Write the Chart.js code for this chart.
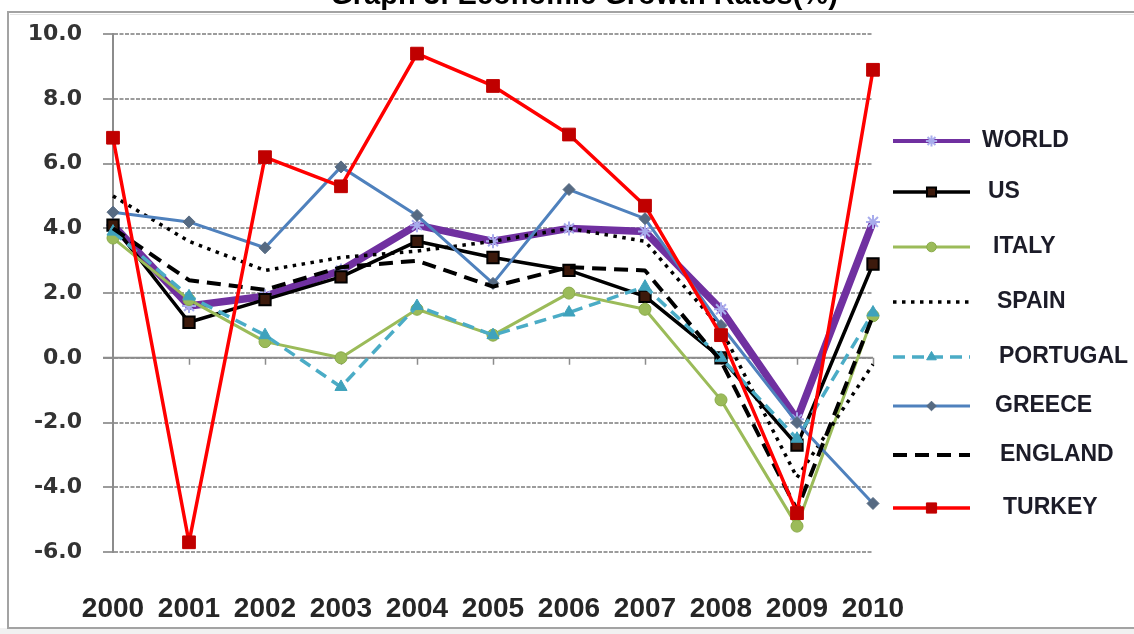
<!DOCTYPE html>
<html>
<head>
<meta charset="utf-8">
<script src="https://cdn.jsdelivr.net/npm/chart.js@4.4.1/dist/chart.umd.min.js"></script>
<style>
  html, body { margin: 0; padding: 0; background: #ffffff; }
  #wrap { position: relative; width: 1134px; height: 634px; }
</style>
</head>
<body>
<div id="wrap"><canvas id="growth" width="1134" height="634"></canvas></div>
<script>
// Annual GDP growth, percent
const years = ['2000', '2001', '2002', '2003', '2004', '2005', '2006', '2007', '2008', '2009', '2010'];
const yTickValues = [-6, -4, -2, 0, 2, 4, 6, 8, 10];
const seriesNames = ['WORLD', 'US', 'ITALY', 'SPAIN', 'PORTUGAL', 'GREECE', 'ENGLAND', 'TURKEY'];

const world    = [4.1, 1.6, 1.9, 2.7, 4.1, 3.6, 4.0, 3.9, 1.5, -1.9, 4.2];
const us       = [4.1, 1.1, 1.8, 2.5, 3.6, 3.1, 2.7, 1.9, 0.0, -2.7, 2.9];
const italy    = [3.7, 1.8, 0.5, 0.0, 1.5, 0.7, 2.0, 1.5, -1.3, -5.2, 1.3];
const spain    = [5.0, 3.6, 2.7, 3.1, 3.3, 3.6, 4.0, 3.6, 0.9, -3.7, -0.2];
const portugal = [3.9, 1.9, 0.7, -0.9, 1.6, 0.7, 1.4, 2.2, 0.0, -2.5, 1.4];
const greece   = [4.5, 4.2, 3.4, 5.9, 4.4, 2.3, 5.2, 4.3, 1.0, -2.0, -4.5];
const england  = [4.0, 2.4, 2.1, 2.8, 3.0, 2.2, 2.8, 2.7, -0.1, -4.7, 1.3];
const turkey   = [6.8, -5.7, 6.2, 5.3, 9.4, 8.4, 6.9, 4.7, 0.7, -4.8, 8.9];

const seriesValues = [world, us, italy, spain, portugal, greece, england, turkey];

// Line and marker styling for each country, in legend order
const seriesStyles = [
  { borderColor: '#7030a0', borderWidth: 7.5, pointStyle: 'star', pointRadius: 7,
    pointBackgroundColor: '#a8acec', pointBorderColor: '#a8acec', pointBorderWidth: 2 },
  { borderColor: '#000000', borderWidth: 3.5, pointStyle: 'rect', pointRadius: 8,
    pointBackgroundColor: '#3d1a0c', pointBorderColor: '#000000', pointBorderWidth: 2 },
  { borderColor: '#9bbb59', borderWidth: 3, pointStyle: 'circle', pointRadius: 6,
    pointBackgroundColor: '#9bbb59', pointBorderColor: '#8aab4a', pointBorderWidth: 1 },
  { borderColor: '#000000', borderWidth: 3.5, borderDash: [3.5, 5.5], pointRadius: 0 },
  { borderColor: '#4bacc6', borderWidth: 3.5, borderDash: [12, 7], pointStyle: 'triangle', pointRadius: 7,
    pointBackgroundColor: '#3fa2bc', pointBorderColor: '#3fa2bc', pointBorderWidth: 1 },
  { borderColor: '#4f81bd', borderWidth: 3, pointStyle: 'rectRot', pointRadius: 6,
    pointBackgroundColor: '#566a82', pointBorderColor: '#566a82', pointBorderWidth: 1 },
  { borderColor: '#000000', borderWidth: 4, borderDash: [14, 8], pointRadius: 0 },
  { borderColor: '#ff0000', borderWidth: 3.5, pointStyle: 'rect', pointRadius: 9,
    pointBackgroundColor: '#c00000', pointBorderColor: '#c00000', pointBorderWidth: 1 }
];

const datasets = seriesNames.map((name, i) => Object.assign({
  label: name,
  data: seriesValues[i],
  tension: 0,
  fill: false,
  pointHoverRadius: seriesStyles[i].pointRadius,
  borderJoinStyle: 'round',
  order: seriesNames.length - 1 - i
}, seriesStyles[i]));

// White page with a thin grey frame; the heading sits above the frame edge
const framePlugin = {
  id: 'frame',
  beforeDraw(chart) {
    const ctx = chart.ctx;
    ctx.save();
    ctx.fillStyle = '#ffffff';
    ctx.fillRect(0, 0, chart.width, chart.height);
    ctx.fillStyle = '#f1f1f1';
    ctx.fillRect(0, 628, chart.width, chart.height - 628);
    ctx.strokeStyle = '#a3a3a3';
    ctx.lineWidth = 2;
    ctx.strokeRect(8, 12, chart.width + 10, 616);
    ctx.strokeStyle = '#e4e4e4';
    ctx.lineWidth = 1;
    ctx.beginPath();
    ctx.moveTo(10, 14.5); ctx.lineTo(chart.width, 14.5);
    ctx.stroke();
    ctx.fillStyle = '#000000';
    ctx.font = 'bold 29px "Liberation Sans", Arial, sans-serif';
    ctx.textAlign = 'center';
    ctx.textBaseline = 'alphabetic';
    ctx.fillText('Graph 3: Economic Growth Rates(%)', 584, 4);
    ctx.restore();
  }
};

// Solid zero line with category tick marks
const zeroAxisPlugin = {
  id: 'zeroAxis',
  beforeDatasetsDraw(chart) {
    const { ctx, chartArea, scales } = chart;
    const y0 = scales.y.getPixelForValue(0);
    ctx.save();
    ctx.strokeStyle = '#8c8c8c';
    ctx.lineWidth = 2;
    ctx.beginPath();
    ctx.moveTo(chartArea.left - 10, y0);
    ctx.lineTo(chartArea.right, y0);
    ctx.stroke();
    ctx.lineWidth = 1.5;
    ctx.beginPath();
    for (let i = 1; i < years.length; i++) {
      const x = Math.round(scales.x.getPixelForValue(i)) + 0.5;
      ctx.moveTo(x, y0);
      ctx.lineTo(x, y0 + 7);
    }
    ctx.stroke();
    ctx.restore();
  }
};

// Legend column on the right, one row per series
const sideLegendPlugin = {
  id: 'sideLegend',
  afterDraw(chart, args, opts) {
    const ctx = chart.ctx;
    chart.data.datasets.forEach((ds, i) => {
      const y = opts.rows[i];
      ctx.save();
      ctx.strokeStyle = ds.borderColor;
      ctx.lineWidth = Math.min(ds.borderWidth, 4);
      ctx.setLineDash(ds.borderDash || []);
      ctx.beginPath();
      ctx.moveTo(opts.x1, y);
      ctx.lineTo(opts.x2, y);
      ctx.stroke();
      ctx.setLineDash([]);
      if (ds.pointRadius > 0) {
        ctx.fillStyle = ds.pointBackgroundColor;
        ctx.strokeStyle = ds.pointBorderColor;
        ctx.lineWidth = ds.pointBorderWidth;
        Chart.helpers.drawPoint(ctx, {
          pointStyle: ds.pointStyle,
          radius: ds.pointRadius * 0.8,
          borderWidth: ds.pointBorderWidth,
          rotation: 0
        }, (opts.x1 + opts.x2) / 2, y);
      }
      ctx.fillStyle = '#1c1c28';
      ctx.font = 'bold 23px "Liberation Sans", Arial, sans-serif';
      ctx.textAlign = 'left';
      ctx.textBaseline = 'middle';
      ctx.fillText(ds.label, opts.textX[i], y);
      ctx.restore();
    });
  }
};

new Chart(document.getElementById('growth'), {
  type: 'line',
  data: { labels: years, datasets: datasets },
  plugins: [framePlugin, zeroAxisPlugin, sideLegendPlugin],
  options: {
    responsive: false,
    animation: false,
    devicePixelRatio: 1,
    layout: { padding: { left: 0, top: 32, right: 261, bottom: 0 } },
    plugins: {
      legend: { display: false },
      title: { display: false },
      tooltip: { enabled: false },
      sideLegend: {
        x1: 893, x2: 970,
        rows: [141, 192, 247, 302, 357, 406, 455, 508],
        textX: [982, 988, 993, 997, 999, 995, 1000, 1003]
      }
    },
    scales: {
      x: {
        type: 'category',
        offset: false,
        grid: { display: false, drawTicks: false },
        border: { display: false },
        ticks: {
          autoSkip: false,
          maxRotation: 0,
          padding: 40,
          color: '#262626',
          font: { family: '"Liberation Sans", Arial, sans-serif', weight: 'bold', size: 28 }
        },
        afterFit(scale) { scale.height = 82; }
      },
      y: {
        min: -6,
        max: 10,
        afterBuildTicks(scale) { scale.ticks = yTickValues.map(v => ({ value: v })); },
        grid: { color: '#9c9c9c', lineWidth: 2, tickLength: 10 },
        border: { display: true, color: '#8c8c8c', width: 2, dash: [4, 1.5] },
        ticks: {
          padding: 21,
          color: '#333333',
          font: { family: '"DejaVu Sans", Verdana, sans-serif', weight: 'bold', size: 22 },
          callback: v => Number(v).toFixed(1)
        },
        afterFit(scale) { scale.width = 113; }
      }
    }
  }
});
</script>
</body>
</html>
